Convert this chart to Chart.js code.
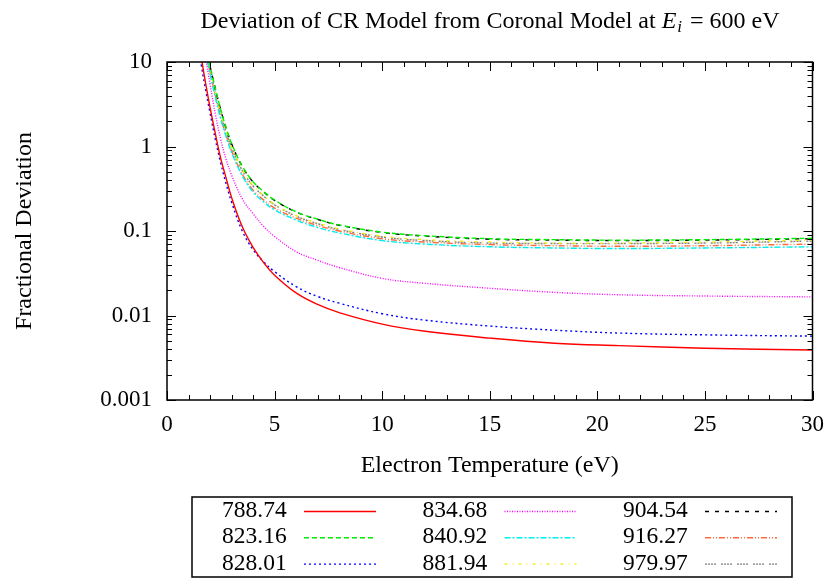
<!DOCTYPE html>
<html>
<head>
<meta charset="utf-8">
<script src="https://cdn.jsdelivr.net/npm/chart.js@4/dist/chart.umd.min.js"></script>
<style>
  html, body { margin: 0; padding: 0; background: #fff; }
  #graph { display: block; }
</style>
</head>
<body>
<canvas id="graph" width="835" height="578"></canvas>
<script>
// electron temperature (eV) sample points
const temps = [1.5, 1.6, 1.8, 2, 2.25, 2.5, 2.75, 3, 3.5, 4, 4.5, 5, 6, 7, 8, 10, 12, 15, 18, 21, 25, 30];

// fractional deviation for each line
const dev78874 = [16, 11, 5.5, 2.9, 1.4, 0.72, 0.42, 0.25, 0.112, 0.064, 0.042, 0.030, 0.0185, 0.0135, 0.0108, 0.0079, 0.0065, 0.0054, 0.0047, 0.0044, 0.0041, 0.0039];
const dev82316 = [45, 33, 16, 9.1, 4.85, 2.72, 1.66, 1.09, 0.585, 0.383, 0.292, 0.232, 0.169, 0.138, 0.118, 0.097, 0.088, 0.081, 0.079, 0.078, 0.079, 0.082];
const dev82801 = [14, 9, 4.6, 2.5, 1.2, 0.63, 0.36, 0.22, 0.10, 0.060, 0.043, 0.033, 0.022, 0.0168, 0.0140, 0.0105, 0.0088, 0.0075, 0.0067, 0.0062, 0.0059, 0.0057];
const dev83468 = [30, 22, 11, 5.5, 2.4, 1.2, 0.7, 0.46, 0.24, 0.16, 0.113, 0.086, 0.057, 0.045, 0.037, 0.0275, 0.024, 0.021, 0.0188, 0.0176, 0.017, 0.0166];
const dev84092 = [36, 26, 13, 7.2, 3.8, 2.1, 1.3, 0.85, 0.45, 0.29, 0.22, 0.178, 0.135, 0.110, 0.095, 0.077, 0.070, 0.065, 0.063, 0.062, 0.063, 0.065];
const dev88194 = [42, 30, 15, 8.3, 4.4, 2.45, 1.5, 0.98, 0.53, 0.345, 0.262, 0.207, 0.152, 0.124, 0.106, 0.087, 0.079, 0.074, 0.072, 0.072, 0.074, 0.078];
const dev90454 = [45, 33, 16, 9, 4.8, 2.7, 1.65, 1.08, 0.58, 0.38, 0.29, 0.23, 0.168, 0.137, 0.117, 0.096, 0.087, 0.080, 0.078, 0.077, 0.078, 0.081];
const dev91627 = [38, 27, 13.6, 7.6, 4.0, 2.2, 1.36, 0.89, 0.47, 0.305, 0.232, 0.187, 0.142, 0.116, 0.100, 0.081, 0.074, 0.069, 0.067, 0.066, 0.067, 0.070];
const dev97997 = [41, 29.5, 14.8, 8.2, 4.35, 2.42, 1.48, 0.97, 0.52, 0.34, 0.258, 0.204, 0.150, 0.122, 0.104, 0.085, 0.077, 0.072, 0.071, 0.071, 0.072, 0.076];

const lineLabels = ['788.74', '823.16', '828.01', '834.68', '840.92', '881.94', '904.54', '916.27', '979.97'];
const lineValues = [dev78874, dev82316, dev82801, dev83468, dev84092, dev88194, dev90454, dev91627, dev97997];

const xTicks = [0, 5, 10, 15, 20, 25, 30];
const yTicks = [0.001, 0.01, 0.1, 1, 10];
const yTickLabels = ['0.001', '0.01', '0.1', '1', '10'];

const lineColors = ['#ff0000', '#00ee00', '#0000ff', '#ff00ff', '#00eeee', '#eeee00', '#000000', '#ff6a3d', '#808080'];
const lineDashes = [[], [5, 3], [2, 3], [1, 1.5], [6, 2, 2, 2], [3, 5, 1, 5], [4, 6], [6, 2, 1, 2, 1, 2], [2, 1, 2, 1, 2, 1, 2, 5]];

const serif = '"Liberation Serif", "Times New Roman", serif';

// gnuplot style frame, inward ticks, title, axis labels and legend box
const gnuplotFrame = {
  id: 'gnuplotFrame',
  afterDraw(chart) {
    const ctx = chart.ctx;
    const area = chart.chartArea;
    const xs = chart.scales.x;
    const ys = chart.scales.y;
    ctx.save();
    ctx.strokeStyle = '#000';
    ctx.lineWidth = 1.5;
    ctx.setLineDash([]);
    ctx.strokeRect(area.left, area.top, area.right - area.left, area.bottom - area.top);

    ctx.lineWidth = 1;
    ctx.beginPath();
    for (let v = 0; v <= 30; v++) {
      const px = Math.round(xs.getPixelForValue(v)) + 0.5;
      const len = v % 5 === 0 ? 9 : 5;
      ctx.moveTo(px, area.bottom); ctx.lineTo(px, area.bottom - len);
      ctx.moveTo(px, area.top); ctx.lineTo(px, area.top + len);
    }
    for (let e = -3; e <= 1; e++) {
      for (let m = 1; m <= 9; m++) {
        const v = m * Math.pow(10, e);
        if (v > 10.0001) continue;
        const py = Math.round(ys.getPixelForValue(v)) + 0.5;
        const len = m === 1 ? 9 : 5;
        ctx.moveTo(area.left, py); ctx.lineTo(area.left + len, py);
        ctx.moveTo(area.right, py); ctx.lineTo(area.right - len, py);
      }
    }
    ctx.stroke();

    ctx.fillStyle = '#000';
    ctx.textBaseline = 'middle';

    // title with math E_i
    const t1 = 'Deviation of CR Model from Coronal Model at ';
    const t2 = ' = 600 eV';
    ctx.font = '24px ' + serif;
    const w1 = ctx.measureText(t1).width;
    const w3 = ctx.measureText(t2).width;
    ctx.font = 'italic 24px ' + serif;
    const wE = ctx.measureText('E').width;
    ctx.font = 'italic 17px ' + serif;
    const wi = ctx.measureText('i').width;
    let tx = 490 - (w1 + wE + wi + 3 + w3) / 2;
    const ty = 22;
    ctx.textAlign = 'left';
    ctx.font = '24px ' + serif;
    ctx.fillText(t1, tx, ty); tx += w1;
    ctx.font = 'italic 24px ' + serif;
    ctx.fillText('E', tx, ty); tx += wE;
    ctx.font = 'italic 17px ' + serif;
    ctx.fillText('i', tx + 1, ty + 6); tx += wi + 3;
    ctx.font = '24px ' + serif;
    ctx.fillText(t2, tx, ty);

    // axis titles
    ctx.font = '24px ' + serif;
    ctx.textAlign = 'center';
    ctx.fillText('Electron Temperature (eV)', (area.left + area.right) / 2, 466);
    ctx.save();
    ctx.translate(25, (area.top + area.bottom) / 2);
    ctx.rotate(-Math.PI / 2);
    ctx.fillText('Fractional Deviation', 0, 0);
    ctx.restore();

    // legend
    ctx.lineWidth = 1.5;
    ctx.strokeRect(192, 497, 600, 80);
    ctx.font = '23.5px ' + serif;
    ctx.textAlign = 'left';
    chart.data.datasets.forEach((ds, i) => {
      const col = Math.floor(i / 3);
      const row = i % 3;
      const lx = 222 + col * 200.5;
      const ly = 511 + row * 26.3;
      ctx.fillStyle = '#000';
      ctx.fillText(ds.label, lx, ly);
      ctx.strokeStyle = ds.borderColor;
      ctx.lineWidth = ds.borderWidth;
      ctx.setLineDash(ds.borderDash);
      ctx.beginPath();
      ctx.moveTo(lx + 82, ly + 0.5);
      ctx.lineTo(lx + 154, ly + 0.5);
      ctx.stroke();
      ctx.setLineDash([]);
    });
    ctx.restore();
  }
};

const datasets = lineLabels.map((label, k) => ({
  label: label,
  data: temps.map((t, i) => ({ x: t, y: lineValues[k][i] })),
  borderColor: lineColors[k],
  borderDash: lineDashes[k],
  borderWidth: 1.4,
  pointRadius: 0,
  fill: false,
  tension: 0.4
}));

const cfg = {
  type: 'line',
  data: { datasets: datasets },
  plugins: [gnuplotFrame],
  options: {
    responsive: false,
    animation: false,
    devicePixelRatio: 1,
    layout: { padding: { left: 0, right: 17, top: 62, bottom: 0 } },
    plugins: {
      legend: { display: false },
      title: { display: false },
      tooltip: { enabled: false }
    },
    scales: {
      x: {
        type: 'linear',
        min: 0,
        max: 30,
        afterBuildTicks(s) { s.ticks = xTicks.map(v => ({ value: v })); },
        afterFit(s) { s.height = 178; },
        grid: { display: false, drawTicks: false },
        border: { display: false },
        ticks: {
          color: '#000',
          padding: 11,
          maxRotation: 0,
          autoSkip: false,
          font: { family: serif, size: 23 }
        }
      },
      y: {
        type: 'logarithmic',
        min: 0.001,
        max: 10,
        afterBuildTicks(s) { s.ticks = yTicks.map(v => ({ value: v })); },
        afterFit(s) { s.width = 167; },
        grid: { display: false, drawTicks: false },
        border: { display: false },
        ticks: {
          color: '#000',
          padding: 15,
          autoSkip: false,
          font: { family: serif, size: 23 },
          callback: (v, i) => yTickLabels[i]
        }
      }
    }
  }
};

new Chart(document.querySelector('#graph'), cfg);
</script>
</body>
</html>
